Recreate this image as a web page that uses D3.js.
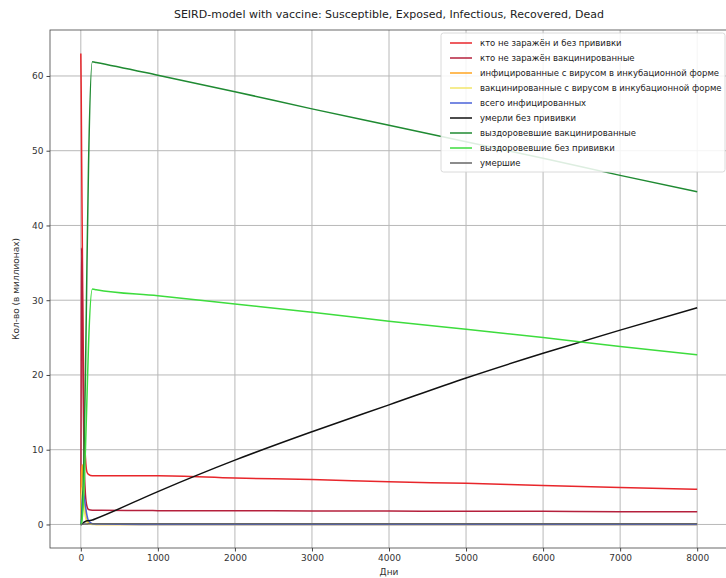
<!DOCTYPE html>
<html>
<head>
<meta charset="utf-8">
<script src="https://cdn.jsdelivr.net/npm/d3@7"></script>
<style>
  body { margin: 0; background: #fff; }
  svg { display: block; font-family: "DejaVu Sans", sans-serif; }
</style>
</head>
<body>
<svg id="chart" width="726" height="578"></svg>
<script>
// time points (days)
const days = [0, 5, 10, 20, 30, 40, 60, 80, 100, 150, 200, 1000, 2000, 3000, 4000, 5000, 6000, 7000, 8000];

// series (millions)
const sNoVac   = [63, 58, 50, 37, 25, 16, 9, 7, 6.7, 6.5, 6.5, 6.5, 6.2, 6.0, 5.7, 5.5, 5.2, 4.95, 4.7];
const sVac     = [0, 20, 37, 30, 18, 10, 4, 2.4, 2.0, 1.9, 1.9, 1.85, 1.85, 1.8, 1.8, 1.75, 1.75, 1.7, 1.7];
const eNoVac   = [0, 4, 7, 8, 6, 4, 1.5, 0.5, 0.2, 0.05, 0, 0, 0, 0, 0, 0, 0, 0, 0];
const eVac     = [0, 2, 4, 5, 4, 2.5, 1, 0.3, 0.1, 0, 0, 0, 0, 0, 0, 0, 0, 0, 0];
const infected = [0, 0.5, 1.5, 3.5, 4.5, 4, 2.5, 1.2, 0.5, 0.1, 0.05, 0, 0, 0, 0, 0, 0, 0, 0];
const deadNoVac= [0, 0, 0.02, 0.1, 0.2, 0.3, 0.4, 0.5, 0.5, 0.6, 0.8, 4.4, 8.6, 12.4, 16.0, 19.6, 22.9, 26.0, 29.0];
const recVac   = [0, 0, 0.5, 2, 5, 9, 20, 35, 48, 61.9, 61.8, 60.1, 57.9, 55.6, 53.4, 51.2, 49.0, 46.7, 44.5];
const recNoVac = [0, 0, 0.3, 1, 2.5, 4.5, 10, 17, 24, 31.5, 31.4, 30.6, 29.5, 28.4, 27.2, 26.1, 25.0, 23.8, 22.7];
const dead     = [0, 0, 0, 0.02, 0.04, 0.05, 0.06, 0.07, 0.08, 0.08, 0.08, 0.08, 0.08, 0.08, 0.08, 0.08, 0.08, 0.08, 0.08];

const labels = [
  'кто не заражён и без прививки',
  'кто не заражён вакцинированные',
  'инфицированные с вирусом в инкубационной форме',
  'вакцинированные с вирусом в инкубационной форме',
  'всего инфицированных',
  'умерли без прививки',
  'выздоровевшие вакцинированные',
  'выздоровевшие без прививки',
  'умершие'
];
const colors = ['#e8262b', '#b5203c', '#ffa520', '#f2e66a', '#4a62d8', '#111111', '#1f8a32', '#3ddc3d', '#666666'];
const seriesList = [sNoVac, sVac, eNoVac, eVac, infected, deadNoVac, recVac, recNoVac, dead];

const xTicks = [0, 1000, 2000, 3000, 4000, 5000, 6000, 7000, 8000];
const yTicks = [0, 10, 20, 30, 40, 50, 60];

const mLeft = 50, mRight = 728, mTop = 30, mBottom = 548;
const svg = d3.select('#chart');

const x = d3.scaleLinear().domain([-400, 8400]).range([mLeft, mRight]);
const y = d3.scaleLinear().domain([-3.15, 66.15]).range([mBottom, mTop]);

svg.append('defs').append('clipPath').attr('id', 'plotclip')
  .append('rect').attr('x', mLeft).attr('y', mTop)
  .attr('width', mRight - mLeft).attr('height', mBottom - mTop);

// grid
const grid = svg.append('g');
grid.selectAll('.gx').data(xTicks).enter().append('line')
  .attr('x1', d => x(d)).attr('x2', d => x(d))
  .attr('y1', mTop).attr('y2', mBottom)
  .attr('stroke', '#b8b8b8').attr('stroke-width', 1);
grid.selectAll('.gy').data(yTicks).enter().append('line')
  .attr('x1', mLeft).attr('x2', mRight)
  .attr('y1', d => y(d)).attr('y2', d => y(d))
  .attr('stroke', '#b8b8b8').attr('stroke-width', 1);

// axes
const xAxis = svg.append('g')
  .attr('transform', `translate(0,${mBottom})`)
  .call(d3.axisBottom(x).tickValues(xTicks).tickSize(3.5).tickPadding(3).tickFormat(d3.format('d')));
const yAxis = svg.append('g')
  .attr('transform', `translate(${mLeft},0)`)
  .call(d3.axisLeft(y).tickValues(yTicks).tickSize(3.5).tickPadding(3).tickFormat(d3.format('d')));
[xAxis, yAxis].forEach(a => {
  a.select('.domain').remove();
  a.selectAll('text').attr('font-size', 9).attr('fill', '#333').attr('font-family', 'DejaVu Sans');
  a.selectAll('line').attr('stroke', '#444');
});

// frame
svg.append('rect')
  .attr('x', mLeft).attr('y', mTop)
  .attr('width', mRight - mLeft).attr('height', mBottom - mTop)
  .attr('fill', 'none').attr('stroke', '#444').attr('stroke-width', 0.8);

// lines
const line = d3.line()
  .x((d, i) => x(days[i]))
  .y(d => y(d))
  .curve(d3.curveMonotoneX);

const plot = svg.append('g').attr('clip-path', 'url(#plotclip)');
seriesList.forEach((s, i) => {
  plot.append('path')
    .datum(s)
    .attr('d', line)
    .attr('fill', 'none')
    .attr('stroke', colors[i])
    .attr('stroke-width', 1.5);
});

// title & labels
svg.append('text')
  .attr('x', (mLeft + mRight) / 2).attr('y', 18)
  .attr('text-anchor', 'middle').attr('font-size', 11).attr('fill', '#222')
  .text('SEIRD-model with vaccine: Susceptible, Exposed, Infectious, Recovered, Dead');

svg.append('text')
  .attr('x', (mLeft + mRight) / 2).attr('y', 575)
  .attr('text-anchor', 'middle').attr('font-size', 9).attr('fill', '#333')
  .text('Дни');

svg.append('text')
  .attr('transform', `translate(19,${(mTop + mBottom) / 2}) rotate(-90)`)
  .attr('text-anchor', 'middle').attr('font-size', 9).attr('fill', '#333')
  .text('Кол-во (в миллионах)');

// legend
const lg = svg.append('g').attr('transform', 'translate(441,33)');
lg.append('rect')
  .attr('width', 284).attr('height', 139).attr('rx', 2.5)
  .attr('fill', '#fff').attr('fill-opacity', 0.85)
  .attr('stroke', '#d0d0d0').attr('stroke-width', 0.8);
labels.forEach((lab, i) => {
  const yy = 10 + i * 15;
  lg.append('line')
    .attr('x1', 9).attr('x2', 31).attr('y1', yy).attr('y2', yy)
    .attr('stroke', colors[i]).attr('stroke-width', 1.5);
  lg.append('text')
    .attr('x', 39).attr('y', yy + 3)
    .attr('font-size', 8.5).attr('fill', '#222')
    .text(lab);
});
</script>
</body>
</html>
